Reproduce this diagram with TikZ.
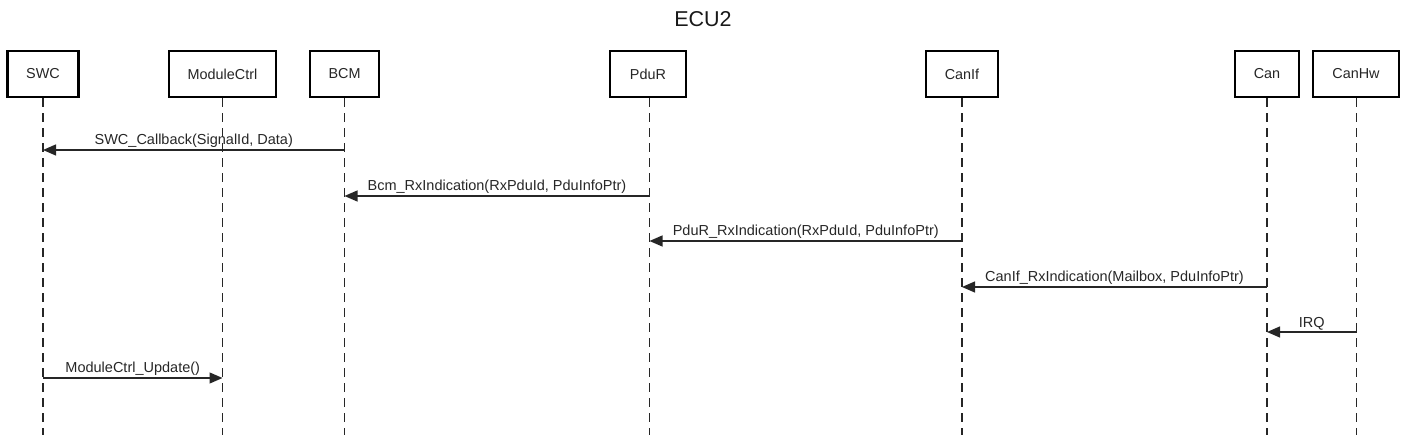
\documentclass[tikz,border=0pt]{standalone}
\usepackage{fontspec}
\setmainfont{Liberation Sans}
\usetikzlibrary{arrows.meta}
\begin{document}
\begin{tikzpicture}[x=1pt,y=-1pt,
  actor/.style={draw=black,line width=2.2pt,fill=white,minimum height=46pt,inner sep=0pt,font=\fontsize{14.4}{16}\selectfont,text=black!85},
  life/.style={draw=black!85,line width=1.3pt,dash pattern=on 9pt off 6pt},
  msg/.style={draw=black!85,line width=1.3pt,-{Triangle[length=13pt,width=11pt]}},
  lbl/.style={font=\fontsize{14.5}{16}\selectfont,text=black!85,inner sep=1.5pt,anchor=south}]
\useasboundingbox (0,0) rectangle (1406,435);
\node[font=\fontsize{21.5}{24}\selectfont,text=black!90] (title) at (703,19) {ECU2};
% actors
\node[actor,minimum width=71pt] (swc) at (43,74) {SWC};
\node[actor,minimum width=107pt] (mod) at (222.5,74) {ModuleCtrl};
\node[actor,minimum width=69pt] (bcm) at (344.5,74) {BCM};
\node[actor,minimum width=76pt] (pdur) at (648,74) {PduR};
\node[actor,minimum width=72pt] (canif) at (962,74) {CanIf};
\node[actor,minimum width=64pt] (can) at (1267,74) {Can};
\node[actor,minimum width=86pt] (canhw) at (1356,74) {CanHw};
% lifeline ends
\coordinate (swcE) at (43,435);
\coordinate (modE) at (222.5,435);
\coordinate (bcmE) at (344.5,435);
\coordinate (pdurE) at (649.5,435);
\coordinate (canifE) at (962,435);
\coordinate (canE) at (1267,435);
\coordinate (canhwE) at (1356.5,435);
\draw[life] (swc.south) -- (swcE);
\draw[life] (mod.south) -- (modE);
\draw[life] (bcm.south) -- (bcmE);
\draw[life] (pdur.south -| pdurE) -- (pdurE);
\draw[life] (canif.south) -- (canifE);
\draw[life] (can.south) -- (canE);
\draw[life] (canhw.south -| canhwE) -- (canhwE);
% messages
\draw[msg] (bcmE |- 0,150) -- node[lbl] {SWC\_Callback(SignalId, Data)} (swcE |- 0,150);
\draw[msg] (pdurE |- 0,196) -- node[lbl] {Bcm\_RxIndication(RxPduId, PduInfoPtr)} (bcmE |- 0,196);
\draw[msg] (canifE |- 0,241) -- node[lbl] {PduR\_RxIndication(RxPduId, PduInfoPtr)} (pdurE |- 0,241);
\draw[msg] (canE |- 0,287) -- node[lbl] {CanIf\_RxIndication(Mailbox, PduInfoPtr)} (canifE |- 0,287);
\draw[msg] (canhwE |- 0,332) -- node[lbl] {IRQ} (canE |- 0,332);
\draw[msg] (swcE |- 0,378) -- node[lbl] {ModuleCtrl\_Update()} (modE |- 0,378);
\end{tikzpicture}
\end{document}
